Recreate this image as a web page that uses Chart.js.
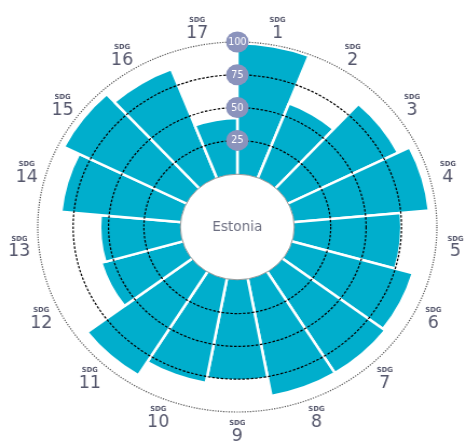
<!DOCTYPE html>
<html>
<head>
<meta charset="utf-8">
<script src="https://cdn.jsdelivr.net/npm/chart.js@4.4.1/dist/chart.umd.min.js"></script>
<style>
  html, body { margin: 0; padding: 0; background: #fff; overflow: hidden; }
  /* the reference is a bit wider than tall, so the canvas gets stretched sideways */
  #wrap { width: 432px; height: 448px; transform: scaleX(1.0787); transform-origin: 0 0; }
</style>
</head>
<body>
<div id="wrap"><canvas id="sdgChart" width="432" height="448"></canvas></div>
<script>
// SDG numbers, clockwise from the top
const goals = ['1', '2', '3', '4', '5', '6', '7', '8', '9', '10', '11', '12', '13', '14', '15', '16', '17'];
// score per goal (0-100)
const scores = [99, 60, 86, 95, 75, 88, 90, 90, 76, 80, 92, 59, 56, 84, 96, 88, 42];
// rings that get a label badge
const ringValues = [25, 50, 75, 100];
const countryName = 'Estonia';

const FONT = "'Liberation Sans Narrow', 'DejaVu Sans Condensed', 'Roboto', sans-serif";

// hole in the middle, ring badges and the SDG labels
const sdgDecor = {
    id: 'sdgDecor',
    afterDraw(chart) {
        const scale = chart.scales.r;
        const ctx = chart.ctx;
        const cx = scale.xCenter, cy = scale.yCenter;
        const n = goals.length;

        ctx.save();

        // centre hole
        const hole = scale.getDistanceFromCenterForValue(0) - 1;
        ctx.beginPath();
        ctx.arc(cx, cy, hole, 0, Math.PI * 2);
        ctx.fillStyle = '#ffffff';
        ctx.fill();
        ctx.lineWidth = 1;
        ctx.strokeStyle = '#9c9c9c';
        ctx.stroke();

        ctx.textAlign = 'center';
        ctx.textBaseline = 'middle';
        ctx.fillStyle = '#6e7082';
        ctx.font = '14px ' + FONT;
        ctx.fillText(countryName, cx, cy);

        // ring badges
        scale.ticks.forEach(tick => {
            if (!ringValues.includes(tick.value)) return;
            const y = cy - scale.getDistanceFromCenterForValue(tick.value);
            ctx.beginPath();
            ctx.arc(cx, y, 10.5, 0, Math.PI * 2);
            ctx.fillStyle = '#8b93bc';
            ctx.fill();
            ctx.fillStyle = '#ffffff';
            ctx.font = '10px ' + FONT;
            ctx.fillText(String(tick.value), cx, y + 0.5);
        });

        // goal labels
        const labelDist = scale.getDistanceFromCenterForValue(100) + 18;
        goals.forEach((g, i) => {
            const p = scale.getPointPosition(i, labelDist, Math.PI / n);
            ctx.fillStyle = '#55576c';
            ctx.font = 'bold 7px ' + FONT;
            ctx.fillText('SDG', p.x, p.y - 7);
            ctx.font = '18px ' + FONT;
            ctx.fillText(g, p.x, p.y + 6);
        });

        ctx.restore();
    }
};

const ctxSdg = document.getElementById('sdgChart').getContext('2d');
new Chart(ctxSdg, {
    type: 'polarArea',
    data: {
        labels: goals,
        datasets: [{
            data: scores,
            backgroundColor: '#00aecc',
            borderColor: '#ffffff',
            borderWidth: 2.5
        }]
    },
    options: {
        responsive: false,
        animation: false,
        layout: { padding: { left: 35, right: 27, top: 42, bottom: 36 } },
        plugins: {
            legend: { display: false },
            tooltip: { enabled: false }
        },
        scales: {
            r: {
                min: -41,
                max: 100,
                startAngle: 0,
                ticks: { display: false, stepSize: 25 },
                pointLabels: { display: false },
                angleLines: { display: false },
                grid: {
                    circular: true,
                    z: 1,
                    color: c => c.tick.value === 100 ? '#555555' : '#000000',
                    lineWidth: c => c.tick.value >= 25 ? 1.2 : 0
                },
                border: {
                    dash: c => (c.tick && c.tick.value === 100) ? [1.2, 1.3] : [2.5, 1.5]
                }
            }
        }
    },
    plugins: [sdgDecor]
});
</script>
</body>
</html>
